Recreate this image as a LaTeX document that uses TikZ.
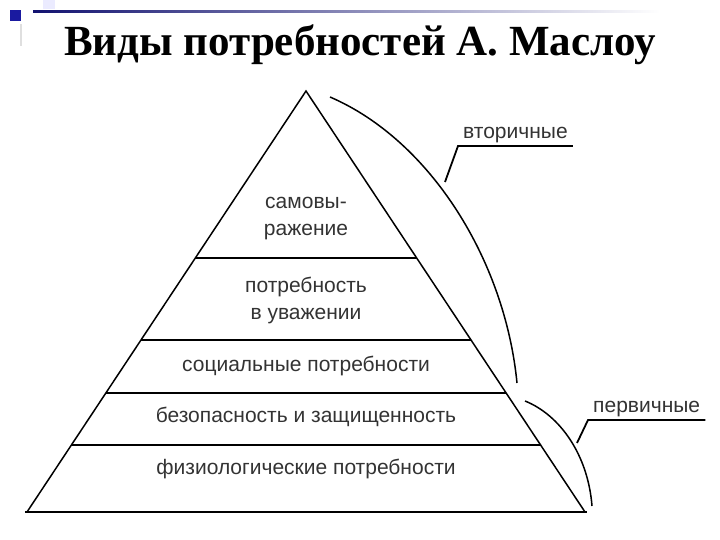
\documentclass[tikz,border=0pt]{standalone}
\usepackage{fontspec}
\setmainfont{Liberation Serif}
\newfontfamily\arialf{Liberation Sans}
\definecolor{txtgray}{HTML}{333333}
\definecolor{slideblue}{HTML}{1A1AA0}
\tikzset{
  level/.style={font=\arialf\fontsize{21}{27}\selectfont, text=txtgray, align=center},
  lbl/.style={font=\arialf\fontsize{21}{25}\selectfont, text=txtgray, inner xsep=5pt, inner ysep=3pt},
  edge/.style={line width=1.5pt},
  floor/.style={line width=2.2pt},
  brace/.style={line width=1.5pt}
}
\begin{document}
\begin{tikzpicture}[x=1pt,y=-1pt]
    \useasboundingbox (0,0) rectangle (720,540);

    % Décor de la diapositive
    \fill[slideblue] (10,10) rectangle (21,21);
    \fill[gray!25] (20,24) rectangle (22,46);
    \fill[blue!8] (43,0) rectangle (55,9);
    \shade[left color=slideblue!70!black, right color=white] (33,10.5) rectangle (660,12.5);

    % Titre
    \node[font=\fontsize{43}{46}\selectfont\bfseries] (title) at (360,45) {Виды потребностей А. Маслоу};

    % Pyramide
    \draw[edge] (27,512) -- (306,91) -- (585,512);
    \draw[floor] (25,512) -- (587,512);
    \foreach \y in {258,340,393,445}{
      \pgfmathsetmacro{\dx}{(\y-91)/421*279}
      \draw[floor] ({306-\dx},\y) -- ({306+\dx},\y);
    }

    % Niveaux
    \node[level] (self)   at (306,219) {самовы-\\ражение};
    \node[level] (esteem) at (306,300) {потребность\\в уважении};
    \node[level] (social) at (306,366) {социальные потребности};
    \node[level] (safety) at (306,417) {безопасность и защищенность};
    \node[level] (physio) at (306,469) {физиологические потребности};

    % Accolades
    \draw[brace] (330,97) .. controls (430,140) and (505,260) .. (517,383);
    \draw[brace] (525,401) .. controls (560,415) and (588,455) .. (592,506);

    % Etiquettes
    \node[lbl, anchor=south west] (second) at (458,146) {вторичные};
    \node[lbl, anchor=south west] (prim)   at (588,420) {первичные};
    \coordinate (secpt)  at (445,182);
    \coordinate (primpt) at (577,443);
    \draw[line width=1.8pt] (secpt) -- (second.south west) -- (second.south east);
    \draw[line width=1.8pt] (primpt) -- (prim.south west) -- (prim.south east);

  \end{tikzpicture}
\end{document}
